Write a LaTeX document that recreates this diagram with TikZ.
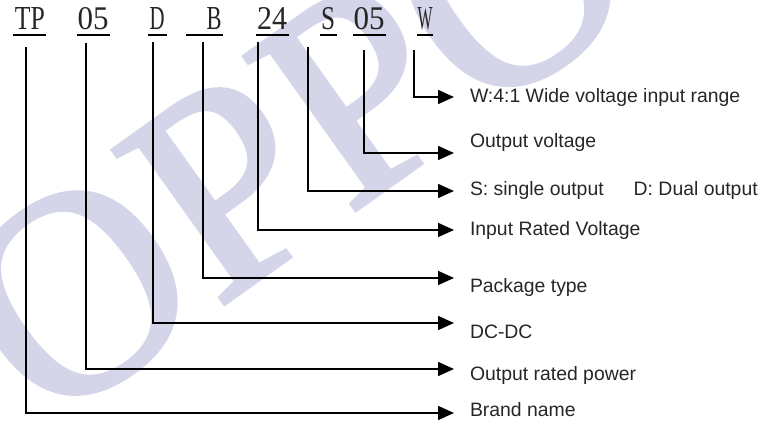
\documentclass[tikz,border=0pt]{standalone}
\usepackage{fontspec}
\setmainfont{Liberation Serif}
\setsansfont{Liberation Sans}
\newfontfamily\markfont[FakeBold=1.5]{Liberation Serif}
\usepackage{graphicx}
\usetikzlibrary{arrows.meta}
\definecolor{markblue}{RGB}{212,213,233}
\definecolor{ink}{RGB}{38,38,38}

\begin{document}
\begin{tikzpicture}[x=1pt, y=-1pt,
    every node/.style={inner sep=0pt, outer sep=0pt},
    code/.style={anchor=south, text=ink},
    lbl/.style={anchor=base west, text=ink, font=\sffamily\fontsize{19.4}{23}\selectfont},
    conn/.style={line width=1.8pt, -{Triangle[length=16pt, width=14pt]}},
    uline/.style={line width=1.8pt}]
    \useasboundingbox (0,0) rectangle (763,427);

    % OPPO watermark
    \begin{scope}
        \clip (0,0) rectangle (763,427);
        \node[anchor=base west, rotate=35.5, text=markblue,
              font=\markfont\fontsize{290}{290}\selectfont] (mark) at (46,431) {OPPO};
    \end{scope}

    % model code
    \foreach \n/\x/\t/\w in {c-tp/30/TP/30, c-pw/93/05/31, c-dc/157/D/15, c-pk/214/B/15,
                             c-vi/272/24/30, c-so/328/S/14, c-vo/369/05/31, c-wr/425/W/15} {
        \node[code] (\n) at (\x,30) {\resizebox{\w pt}{22pt}{\t}};
    }
    \foreach \a/\b in {13/46, 77/110, 148/167, 186/223, 256/289, 320/337, 353/386, 417/433}
        \draw[uline] (\a,35) -- (\b,35);

    % meanings
    \node[lbl] (range) at (470,103) {W:4:1 Wide voltage input range};
    \node[lbl] (vout)  at (470,148) {Output voltage};
    \node[lbl] (outs)  at (470,196) {S: single output\hspace{30pt}D: Dual output};
    \node[lbl] (vin)   at (470,236) {Input Rated Voltage};
    \node[lbl] (pkg)   at (470,293) {Package type};
    \node[lbl] (dcdc)  at (470,339) {DC-DC};
    \node[lbl] (pwr)   at (470,381) {Output rated power};
    \node[lbl] (brand) at (470,417) {Brand name};

    % leaders
    \draw[conn] ([xshift=-11pt,yshift=-20pt]c-wr.south) |- ([xshift=-16pt,yshift=6pt]range.base west);
    \draw[conn] ([xshift=-5pt,yshift=-20pt]c-vo.south)  |- ([xshift=-16pt,yshift=-5pt]vout.base west);
    \draw[conn] ([xshift=-20pt,yshift=-17pt]c-so.south) |- ([xshift=-16pt,yshift=5pt]outs.base west);
    \draw[conn] ([xshift=-14pt,yshift=-12pt]c-vi.south) |- ([xshift=-16pt,yshift=6pt]vin.base west);
    \draw[conn] ([xshift=-11pt,yshift=-12pt]c-pk.south) |- ([xshift=-16pt,yshift=15pt]pkg.base west);
    \draw[conn] ([xshift=-4pt,yshift=-12pt]c-dc.south)  |- ([xshift=-16pt,yshift=16pt]dcdc.base west);
    \draw[conn] ([xshift=-7pt,yshift=-13pt]c-pw.south)  |- ([xshift=-16pt,yshift=12pt]pwr.base west);
    \draw[conn] ([xshift=-4pt,yshift=-17pt]c-tp.south)  |- ([xshift=-16pt,yshift=4pt]brand.base west);
\end{tikzpicture}
\end{document}
